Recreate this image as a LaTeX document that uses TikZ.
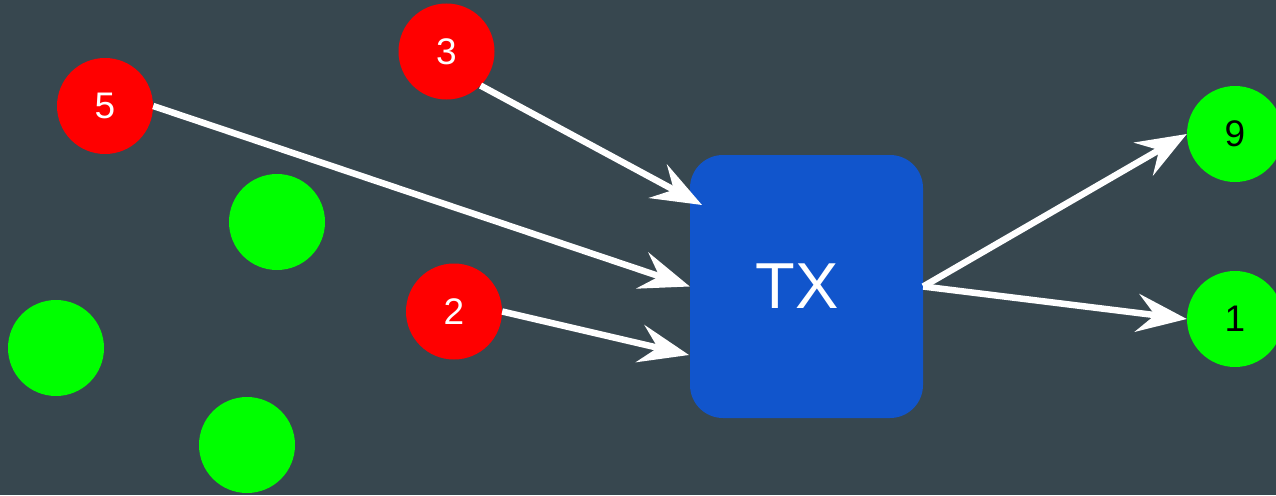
\documentclass[tikz,border=0pt]{standalone}
\usepackage{fontspec}
\setmainfont{Liberation Sans}
\usetikzlibrary{arrows.meta}
\definecolor{bg}{HTML}{37474F}
\definecolor{boxblue}{HTML}{1155CC}
\definecolor{red0}{HTML}{FF0000}
\definecolor{green0}{HTML}{00FF00}
\tikzset{
  ball/.style={circle, minimum size=96pt, inner sep=0pt, font=\fontsize{37}{37}\selectfont},
  redball/.style={ball, fill=red0, text=white},
  greenball/.style={ball, fill=green0, text=black},
  txbox/.style={rounded corners=33pt, fill=boxblue, minimum width=233pt, minimum height=263pt, inner sep=0pt, text=white, font=\fontsize{65}{65}\selectfont},
  flow/.style={draw=white, line width=6.5pt, -{Stealth[length=50pt,width=38pt,inset=18pt]}}
}
\begin{document}
\begin{tikzpicture}[x=1pt,y=-1pt]
\useasboundingbox[fill=bg] (0,0) rectangle (1276,495);
\node[txbox] (tx) at (806.5,286.5) {\hspace*{-19pt}TX};
\node[redball] (n5) at (105,106) {5};
\node[redball] (n3) at (446.5,51.5) {3};
\node[redball] (n2) at (454,311.5) {2};
\node[greenball] (g1) at (277,222) {};
\node[greenball] (g2) at (56,348) {};
\node[greenball] (g3) at (247,445) {};
\node[greenball] (n9) at (1235,134) {9};
\node[greenball] (n1) at (1235,319) {1};
\coordinate (t3) at (702,205);
\coordinate (t2) at (689,355);
\draw[flow] (n5.east) -- (tx.west);
\draw[flow] (n3.-45) -- (t3);
\draw[flow] (n2.east) -- (t2);
\draw[flow] (tx.east) -- (n9.west);
\draw[flow] (tx.east) -- (n1.west);
\end{tikzpicture}
\end{document}
